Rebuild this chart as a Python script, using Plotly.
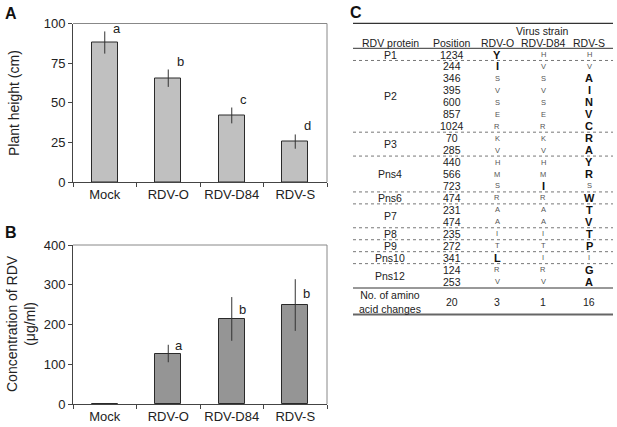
import plotly.graph_objects as go

# ---------------- data ----------------
categories = ["Mock", "RDV-O", "RDV-D84", "RDV-S"]
plant_height = [88, 65.5, 42, 25.5]
plant_height_err = [7, 5.5, 5, 4.5]
height_letters = ["a", "b", "c", "d"]
height_letter_y = [95, 74, 50, 34]

conc = [0, 127, 214, 249]
conc_err = [0, 22, 55, 65]
conc_letters = ["", "a", "b", "b"]
conc_letter_y = [0, 148, 239, 279]

proteins = ["P1", "P2", "P3", "Pns4", "Pns6", "P7", "P8", "P9", "Pns10", "Pns12"]
group_sizes = [1, 6, 2, 3, 1, 2, 1, 1, 1, 2]
positions = [1234, 244, 346, 395, 600, 857, 1024, 70, 285, 440, 566, 723,
             474, 231, 474, 235, 272, 341, 124, 253]
rdv_o = list("YISVSERKVHMSRAAITLRV")
rdv_d84 = list("HVSVSERKVHMIRAAITIRV")
rdv_s = list("HVAINVCRAYRSWTVTPIGA")
strains = ["RDV-O", "RDV-D84", "RDV-S"]
n_changes = [20, 3, 1, 16]

W, H = 617, 427
def px(x):
    return x / W
def py(y):
    return 1 - y / H

FONT = "Liberation Sans, Arial, sans-serif"

fig = go.Figure()
fig.add_trace(go.Bar(
    x=categories, y=plant_height, width=0.41,
    marker=dict(color="#c0c0c0", line=dict(color="#2a2a2a", width=1)),
    error_y=dict(type="data", array=plant_height_err, width=0, thickness=1, color="#333333"),
    xaxis="x", yaxis="y", showlegend=False))
fig.add_trace(go.Bar(
    x=categories, y=conc, width=0.41,
    marker=dict(color="#959595", line=dict(color="#2a2a2a", width=1)),
    error_y=dict(type="data", array=conc_err, width=0, thickness=1, color="#333333"),
    xaxis="x2", yaxis="y2", showlegend=False))

xdom = [px(73), px(327)]
common_x = dict(type="category", showline=True, linecolor="#444", linewidth=1,
                ticks="outside", tickson="boundaries", ticklen=4, tickcolor="#444",
                tickfont=dict(size=13, color="#222", family=FONT), showgrid=False,
                range=[-0.5, 3.5], domain=xdom, automargin=False, tickangle=0)
common_y = dict(showline=True, linecolor="#444", linewidth=1, ticks="outside",
                ticklen=4, tickcolor="#444", showgrid=False, zeroline=False,
                automargin=False,
                tickfont=dict(size=13, color="#222", family=FONT))

fig.update_layout(
    width=W, height=H, margin=dict(l=0, r=0, t=0, b=0, autoexpand=False),
    paper_bgcolor="white", plot_bgcolor="white",
    font=dict(family=FONT, color="#222"),
    bargap=0,
    xaxis=dict(**common_x, anchor="y"),
    yaxis=dict(**common_y, range=[0, 100], tickvals=[0, 25, 50, 75, 100],
               domain=[py(182), py(23.5)], anchor="x"),
    xaxis2=dict(**common_x, anchor="y2"),
    yaxis2=dict(**common_y, range=[0, 400], tickvals=[0, 100, 200, 300, 400],
                domain=[py(404), py(245)], anchor="x2"),
)

shapes = []
# top/right borders of plots
for xr, yr in (("x", "y"), ("x2", "y2")):
    shapes.append(dict(type="line", xref=xr + " domain", yref=yr + " domain",
                       x0=0, x1=1, y0=1, y1=1, line=dict(color="#888", width=1)))
    shapes.append(dict(type="line", xref=xr + " domain", yref=yr + " domain",
                       x0=1, x1=1, y0=0, y1=1, line=dict(color="#888", width=1)))

ann = []
CM = dict(xanchor="center", yanchor="middle", showarrow=False)
# significance letters
for c, l, yv in zip(categories, height_letters, height_letter_y):
    ann.append(dict(x=c, y=yv, xref="x", yref="y", text=l, xshift=12, yshift=3,
                    font=dict(size=13, color="#222"), **CM))
for c, l, yv in zip(categories, conc_letters, conc_letter_y):
    if l:
        ann.append(dict(x=c, y=yv, xref="x2", yref="y2", text=l, xshift=11,
                        font=dict(size=13, color="#222"), **CM))

# axis titles
ann.append(dict(x=px(14), y=py(103), xref="paper", yref="paper", text="Plant height (cm)",
                textangle=-90, font=dict(size=14, color="#222"), **CM))
ann.append(dict(x=px(21), y=py(324), xref="paper", yref="paper",
                text="Concentration of RDV<br>(μg/ml)",
                textangle=-90, font=dict(size=14, color="#222"), **CM))

# panel letters
for t, x, y in (("A", 11, 13), ("B", 11, 232), ("C", 356, 12)):
    ann.append(dict(x=px(x), y=py(y), xref="paper", yref="paper", text="<b>%s</b>" % t,
                    font=dict(size=16, color="#111"), **CM))

# ---------------- table ----------------
tx0, tx1 = 353, 613
col_x = [390, 452, 497, 543, 589]
row0, step = 54.5, 11.95
def row_y(i):
    return row0 + i * step

def tline(y, color="#222", width=1, dash=None):
    d = dict(type="line", xref="paper", yref="paper", x0=px(tx0), x1=px(tx1),
             y0=py(y), y1=py(y), line=dict(color=color, width=width))
    if dash:
        d["line"]["dash"] = dash
    shapes.append(d)

def ttext(x, y, text, size=10.5, color="#222"):
    ann.append(dict(x=px(x), y=py(y), xref="paper", yref="paper", text=text,
                    font=dict(size=size, color=color), **CM))

tline(23.3, "#333", 1.2)
ttext(542, 31.5, "Virus strain")
for x, t in zip(col_x, ["RDV protein", "Position"] + strains):
    ttext(x, 42.5, t)
tline(48.3, "#333", 1)

# rows
for i, pos in enumerate(positions):
    y = row_y(i)
    ttext(col_x[1], y, str(pos))
    res = [rdv_o[i], rdv_d84[i], rdv_s[i]]
    for j, r in enumerate(res):
        unique = res.count(r) == 1
        if unique:
            ttext(col_x[2 + j], y, "<b>%s</b>" % r, size=11, color="#111")
        else:
            ttext(col_x[2 + j], y, r, size=7.5, color="#555")

# protein groups
start = 0
for gi, (p, n) in enumerate(zip(proteins, group_sizes)):
    yc = (row_y(start) + row_y(start + n - 1)) / 2
    ttext(col_x[0], yc, p)
    start += n
    if gi < len(proteins) - 1:
        tline(row_y(start) - step / 2, "#777", 1, "dot")

tline(288, "#333", 1)
ttext(col_x[0], 302, "No. of amino<br>acid changes")
for x, n in zip(col_x[1:], n_changes):
    ttext(x, 302, str(n))
tline(314.5, "#666", 2)

fig.update_layout(shapes=shapes, annotations=ann)
fig.write_html("out.html", config={"displayModeBar": False},
               post_script="document.body.style.margin='0';")
